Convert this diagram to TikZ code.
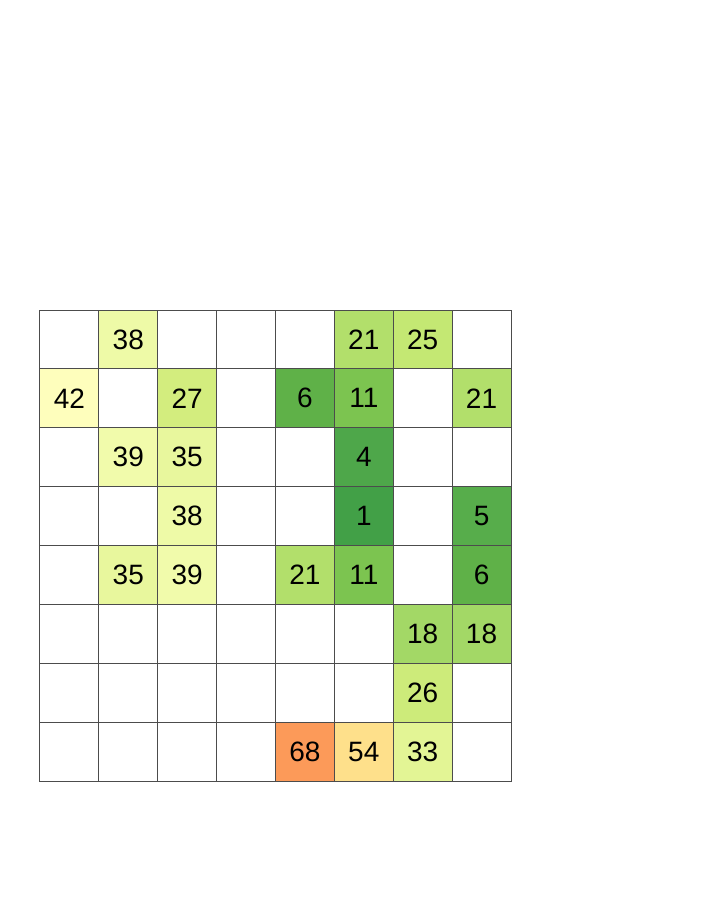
\documentclass[tikz,border=0pt]{standalone}
\usepackage{fontspec}
\setmainfont{Liberation Sans}
\usetikzlibrary{positioning}

% colour scale of the scores
\definecolor{v1}{HTML}{42A047}
\definecolor{v4}{HTML}{4EA74A}
\definecolor{v5}{HTML}{57AD4B}
\definecolor{v6}{HTML}{5FB148}
\definecolor{v11}{HTML}{7CC450}
\definecolor{v18}{HTML}{A3D866}
\definecolor{v21}{HTML}{B2DF6B}
\definecolor{v25}{HTML}{C4E873}
\definecolor{v26}{HTML}{CDEB7A}
\definecolor{v27}{HTML}{D3ED7E}
\definecolor{v33}{HTML}{E3F595}
\definecolor{v35}{HTML}{E8F79D}
\definecolor{v38}{HTML}{EEFAA7}
\definecolor{v39}{HTML}{F1FBAB}
\definecolor{v42}{HTML}{FEFEBC}
\definecolor{v54}{HTML}{FEE08B}
\definecolor{v68}{HTML}{FC9A59}

\begin{document}
\begin{tikzpicture}[x=0.5pt,y=-0.5pt,
  cell/.style={draw=black!70, line width=0.5pt, minimum size=29.44pt, inner sep=0pt, font=\fontsize{14}{16}\selectfont}]
\useasboundingbox (0,0) rectangle (720,921);

% empty 8x8 grid
\foreach \r in {0,...,7}
  \foreach \c in {0,...,7}
    \node (cell_\r_\c) [cell] at ({40+58.875*(\c+0.5)},{310+58.875*(\r+0.5)}) {};

% scored cells
\foreach \r/\c/\v in {0/1/38, 0/5/21, 0/6/25,
                      1/0/42, 1/2/27, 1/4/6, 1/5/11, 1/7/21,
                      2/1/39, 2/2/35, 2/5/4,
                      3/2/38, 3/5/1, 3/7/5,
                      4/1/35, 4/2/39, 4/4/21, 4/5/11, 4/7/6,
                      5/6/18, 5/7/18,
                      6/6/26,
                      7/4/68, 7/5/54, 7/6/33}
  \node (score_\r_\c) [cell, fill=v\v] at (cell_\r_\c) {\v};
\end{tikzpicture}
\end{document}
